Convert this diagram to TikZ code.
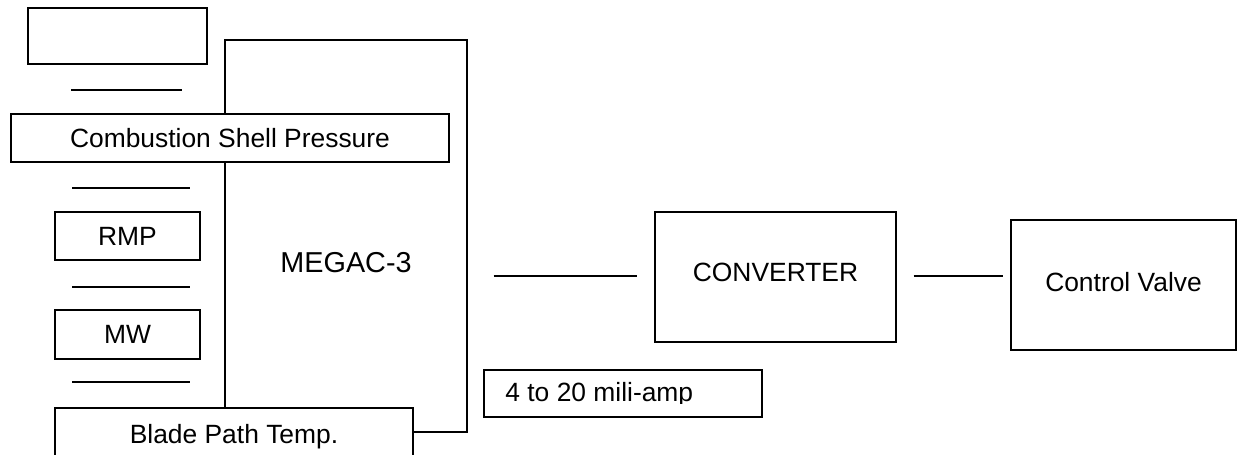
\documentclass[tikz,border=0pt]{standalone}
\usepackage{fontspec}
\setmainfont{Liberation Sans}
\usepackage{tikz}
\usetikzlibrary{calc, positioning}
\tikzset{
 box/.style = {
    rectangle, draw, fill=white,
    inner sep=0pt,
    line width=0.7pt,
    font=\fontsize{13.2}{15}\selectfont},
 line/.style = {
    draw, line width=0.7pt},
 big label/.style = {
    font=\fontsize{14.4}{17}\selectfont},
}
\begin{document}
\begin{tikzpicture}[x=0.5pt, y=-0.5pt]

    \clip (0,0) rectangle (1243,455);

    % Place nodes
    \node [box, minimum width=121pt, minimum height=196pt] (megac) at (346,236) {};
    \node [big label] (megactext) at ([yshift=-13.5pt]megac.center) {MEGAC-3};

    \node [box, minimum width=89.5pt, minimum height=28pt] (top) at (117.5,36) {};
    \node [box, minimum width=219pt, minimum height=24pt] (comb) at (230,138) {Combustion Shell Pressure};
    \node [box, minimum width=72.5pt, minimum height=24pt] (rmp) at (127.5,236) {RMP};
    \node [box, minimum width=72.5pt, minimum height=24.5pt] (mw) at (127.5,334.5) {MW};
    \node [box, minimum width=179pt, minimum height=27pt, text depth=0pt, text height=8pt] (blade) at (234,435) {Blade Path Temp.};

    \node [box, minimum width=120.5pt, minimum height=65pt] (conv) at (775.5,277) {};
    \node [font=\fontsize{13.2}{15}\selectfont] (convtext) at ([yshift=2.5pt]conv.center) {CONVERTER};
    \node [box, minimum width=112.5pt, minimum height=65pt] (valve) at (1123.5,285) {};
    \node [font=\fontsize{13.2}{15}\selectfont] (valvetext) at ([yshift=1.5pt]valve.center) {Control Valve};

    \node [box, minimum width=139pt, minimum height=23.5pt] (amp) at (623,393.5) {};
    \begin{scope}
        \clip (484,370) rectangle (762,403);
        \node [font=\fontsize{13.2}{15}\selectfont, anchor=west, inner sep=0pt] (amptext) at (505,395) {4 to 20 mili-amp};
    \end{scope}

    % separators on the left
    \path [line] (71,90) -- (182,90);
    \path [line] (72,188) -- (190,188);
    \path [line] (72,287) -- (190,287);
    \path [line] (72,382) -- (190,382);

    % signal lines
    \path [line, shorten <=13pt, shorten >=8.5pt] (megac.east |- 0,276) -- (conv.west |- 0,276);
    \path [line, shorten <=8.5pt, shorten >=3.5pt] (conv.east |- 0,276) -- (valve.west |- 0,276);

\end{tikzpicture}
\end{document}
